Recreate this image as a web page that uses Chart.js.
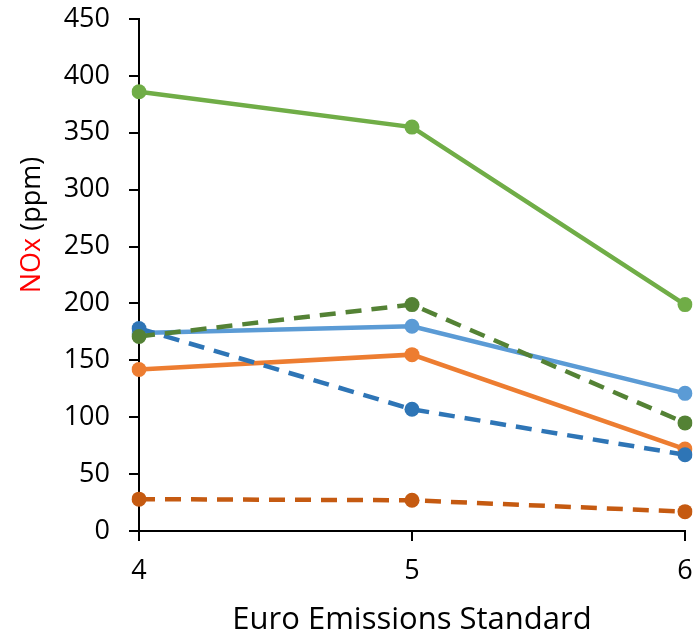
<!DOCTYPE html>
<html>
<head>
<meta charset="utf-8">
<script src="https://cdn.jsdelivr.net/npm/chart.js@4"></script>
<style>
    body { margin: 0; background: #fff; }
    #wrap { width: 694px; height: 639px; }
</style>
</head>
<body>
<div id="wrap"><canvas id="noxChart" width="694" height="639"></canvas></div>
<script>
    // Datos
    var standards = ['4', '5', '6'];
    var greenSolid = [386, 355, 199];
    var lightBlueSolid = [174, 180, 121];
    var greenDashed = [171, 199, 95];
    var orangeSolid = [142, 155, 72];
    var blueDashed = [178, 107, 67];
    var darkOrangeDashed = [28, 27, 17];

    var yMin = 0, yMax = 450, yStep = 50;

    var font = "'Open Sans', sans-serif";

    function serie(data, color, dashed) {
        return {
            data: data,
            borderColor: color,
            backgroundColor: color,
            borderWidth: 4.5,
            borderDash: dashed ? [16, 10] : [],
            pointRadius: 7.5,
            pointHoverRadius: 7.5,
            pointBorderWidth: 0,
            tension: 0
        };
    }

    // Titulo del eje y con "NOx" en rojo
    var yTitlePlugin = {
        id: 'yTitle',
        afterDraw: function (chart) {
            var ctx = chart.ctx;
            var a = 'NOx', b = ' (ppm)';
            ctx.save();
            ctx.font = "27px " + font;
            var w = ctx.measureText(a + b).width;
            ctx.translate(32, 225);
            ctx.rotate(-Math.PI / 2);
            ctx.textBaseline = 'middle';
            ctx.textAlign = 'left';
            ctx.fillStyle = '#ff0000';
            ctx.fillText(a, -w / 2, 0);
            ctx.fillStyle = '#000';
            ctx.fillText(b, -w / 2 + ctx.measureText(a).width, 0);
            ctx.restore();
        }
    };

    // El primer conjunto se dibuja encima
    var ctx = document.getElementById('noxChart').getContext('2d');
    var noxChart = new Chart(ctx, {
        type: 'line',
        data: {
            labels: standards,
            datasets: [
                serie(greenDashed, '#548235', true),
                serie(blueDashed, '#2E75B6', true),
                serie(orangeSolid, '#ED7D31', false),
                serie(lightBlueSolid, '#5B9BD5', false),
                serie(greenSolid, '#70AD47', false),
                serie(darkOrangeDashed, '#C55A11', true)
            ]
        },
        options: {
            responsive: false,
            animation: false,
            layout: { padding: 0, autoPadding: false },
            plugins: {
                legend: { display: false },
                tooltip: { enabled: false }
            },
            scales: {
                x: {
                    offset: false,
                    grid: { drawOnChartArea: false, drawTicks: true, tickLength: 10, color: '#000', lineWidth: 2 },
                    border: { color: '#000', width: 2 },
                    ticks: { color: '#000', font: { family: font, size: 27 }, padding: 14, maxRotation: 0 },
                    title: { display: true, text: 'Euro Emissions Standard', color: '#000', font: { family: font, size: 31 }, padding: { top: 12, bottom: 0 } },
                    afterFit: function (scale) {
                        scale.height = 108;
                        scale.paddingLeft = 0;
                        scale.paddingRight = 9;
                    }
                },
                y: {
                    min: yMin,
                    max: yMax,
                    grid: { drawOnChartArea: false, drawTicks: true, tickLength: 10, color: '#000', lineWidth: 2 },
                    border: { color: '#000', width: 2 },
                    ticks: { stepSize: yStep, color: '#000', font: { family: font, size: 27 }, padding: 19 },
                    afterFit: function (scale) {
                        scale.width = 139;
                        scale.paddingTop = 19;
                        scale.paddingBottom = 0;
                    }
                }
            }
        },
        plugins: [yTitlePlugin]
    });
</script>
</body>
</html>
